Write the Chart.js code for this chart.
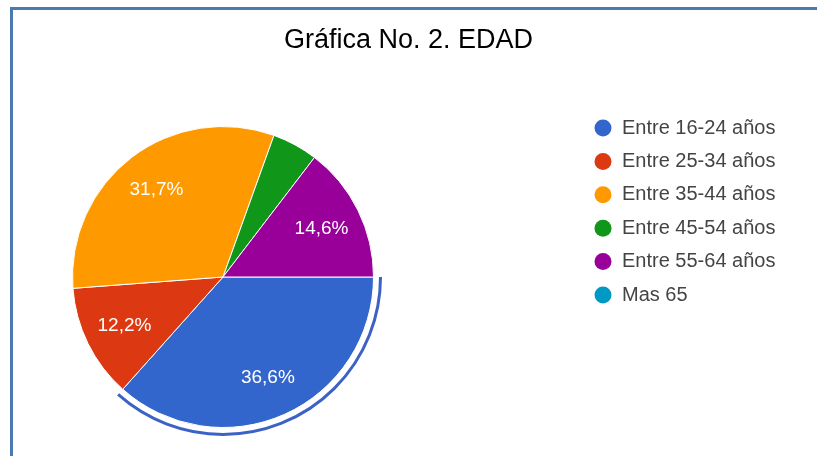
<!DOCTYPE html>
<html>
<head>
<meta charset="utf-8">
<script src="https://cdn.jsdelivr.net/npm/chart.js@4/dist/chart.umd.min.js"></script>
<style>
  html, body { margin: 0; padding: 0; background: #fff; }
  #wrap { position: relative; width: 817px; height: 456px; overflow: hidden; }
  #frame { position: absolute; left: 10px; top: 7px; width: 900px; height: 600px;
           border-left: 3px solid #4a7ab0; border-top: 3px solid #4a7ab0; pointer-events: none; }
</style>
</head>
<body>
<div id="wrap">
  <canvas id="pie" width="817" height="456"></canvas>
  <div id="frame"></div>
</div>
<script>
"use strict";
var categories = ["Entre 16-24 años", "Entre 25-34 años", "Entre 35-44 años", "Entre 45-54 años", "Entre 55-64 años", "Mas 65"];
var percents = [36.6, 12.2, 31.7, 4.9, 14.6, 0];
var sliceColors = ["#3366cc", "#dc3912", "#ff9900", "#109618", "#990099", "#0099c6"];
var chartTitle = "Gráfica No. 2. EDAD";

var FONT = "Arial, 'Liberation Sans', sans-serif";

// title centred on the whole canvas (the built-in one centres on the padded box)
var pageTitle = {
  id: "pageTitle",
  afterDraw: function (chart) {
    var ctx = chart.ctx;
    ctx.save();
    ctx.fillStyle = "#000";
    ctx.font = "27px " + FONT;
    ctx.textAlign = "center";
    ctx.textBaseline = "middle";
    ctx.fillText(chartTitle, chart.width / 2, 41);
    ctx.restore();
  }
};

// white percentage labels inside the slices
var sliceLabels = {
  id: "sliceLabels",
  afterDatasetsDraw: function (chart) {
    var ctx = chart.ctx;
    var meta = chart.getDatasetMeta(0);
    ctx.save();
    ctx.fillStyle = "#fff";
    ctx.font = "19px " + FONT;
    ctx.textAlign = "center";
    ctx.textBaseline = "middle";
    meta.data.forEach(function (arc, i) {
      var v = percents[i];
      if (v < 5) return;
      var mid = (arc.startAngle + arc.endAngle) / 2;
      var r = arc.outerRadius * 0.73;
      ctx.fillText(v.toFixed(1).replace(".", ",") + "%", arc.x + Math.cos(mid) * r, arc.y + Math.sin(mid) * r);
    });
    ctx.restore();
  }
};

// outline ring around the selected (first) slice
var selectedRing = {
  id: "selectedRing",
  afterDatasetsDraw: function (chart) {
    var arc = chart.getDatasetMeta(0).data[0];
    var ctx = chart.ctx;
    ctx.save();
    ctx.strokeStyle = "#3b62c4";
    ctx.lineWidth = 3;
    ctx.beginPath();
    ctx.arc(arc.x, arc.y, arc.outerRadius + 7, arc.startAngle, arc.endAngle);
    ctx.stroke();
    ctx.restore();
  }
};

// legend on the right, drawn from the same arrays
var sideLegend = {
  id: "sideLegend",
  afterDraw: function (chart) {
    var ctx = chart.ctx;
    ctx.save();
    ctx.font = "20px " + FONT;
    ctx.textBaseline = "middle";
    ctx.textAlign = "left";
    categories.forEach(function (name, i) {
      var y = 128 + i * 33.4;
      ctx.fillStyle = sliceColors[i];
      ctx.beginPath();
      ctx.arc(603, y, 8.5, 0, Math.PI * 2);
      ctx.fill();
      ctx.fillStyle = "#444";
      ctx.fillText(name, 622, y);
    });
    ctx.restore();
  }
};

new Chart(document.getElementById("pie"), {
  type: "pie",
  data: {
    labels: categories,
    datasets: [{
      data: percents,
      backgroundColor: sliceColors,
      borderColor: "#fff",
      borderWidth: 1
    }]
  },
  options: {
    responsive: false,
    animation: false,
    rotation: 90,
    layout: { padding: { left: 72, right: 443, bottom: 28, top: 126 } },
    plugins: {
      legend: { display: false },
      tooltip: { enabled: false },
      title: { display: false }
    }
  },
  plugins: [sliceLabels, selectedRing, sideLegend, pageTitle]
});
</script>
</body>
</html>
